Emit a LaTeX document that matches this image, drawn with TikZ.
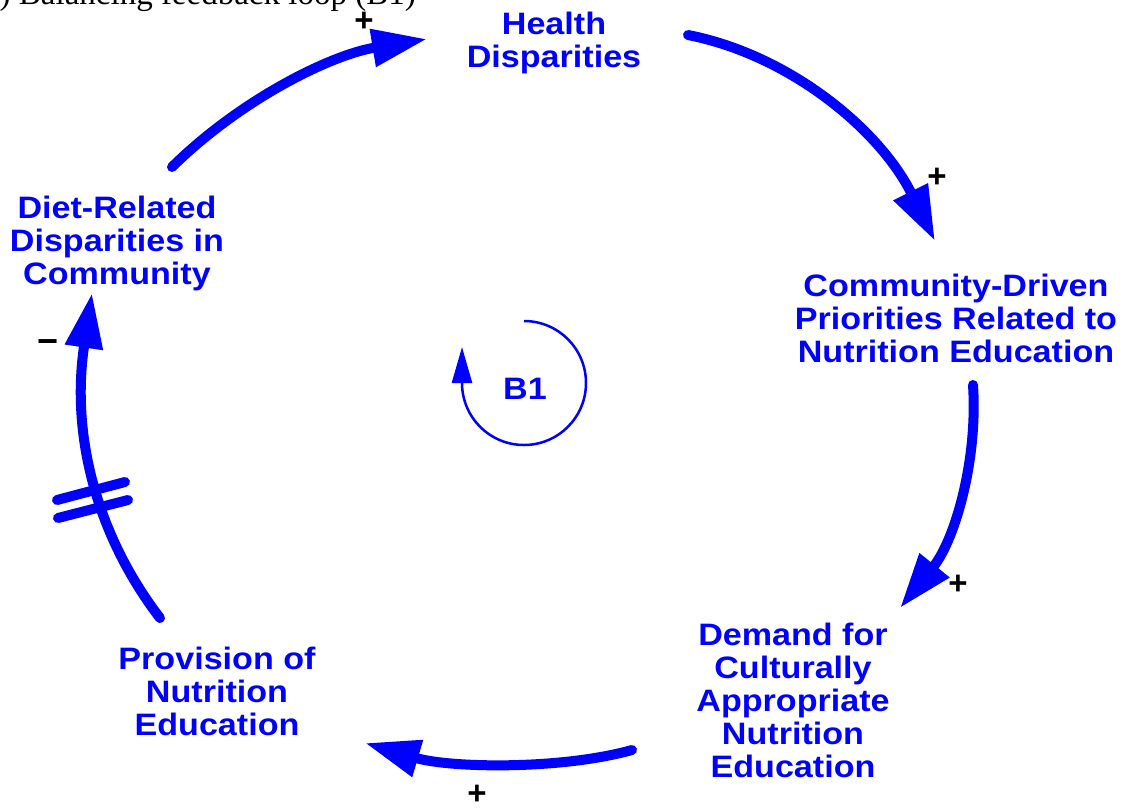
\documentclass[tikz,border=0pt]{standalone}
\usepackage{fontspec}
\setmainfont{Liberation Sans}
\newfontfamily\lblfont{Liberation Sans}[FakeStretch=1.1]
\newfontfamily\titlefont{Liberation Serif}
\usetikzlibrary{arrows.meta}
\begin{document}
\begin{tikzpicture}[x=1pt,y=-1pt,
  lbl/.style={text=blue, font=\lblfont\bfseries\fontsize{31}{33}\selectfont, align=center, inner sep=0pt, anchor=north},
  link/.style={draw=blue, line width=10pt, line cap=round, -{Triangle[length=55pt,width=36pt]}},
  pol/.style={font=\bfseries\fontsize{33}{33}\selectfont, inner sep=0pt, text=black},
  hash/.style={draw=blue, line width=10pt, line cap=round}]
\useasboundingbox (0,0) rectangle (1128,807);
% title (cut off at the top)
\node[anchor=base west, font=\titlefont\fontsize{33}{33}\selectfont, inner sep=0pt] (title) at (-17,4) {b) Balancing feedback loop (B1)};
% variables
\node[lbl] (hd) at (554,9) {\rule{0pt}{25pt}Health\\Disparities};
\node[lbl] (cd) at (956,271) {\rule{0pt}{25pt}Community-Driven\\Priorities Related to\\Nutrition Education};
\node[lbl] (dm) at (793,620) {\rule{0pt}{25pt}Demand for\\Culturally\\Appropriate\\Nutrition\\Education};
\node[lbl] (pv) at (217,644) {\rule{0pt}{25pt}Provision of\\Nutrition\\Education};
\node[lbl] (dr) at (117,193) {\rule{0pt}{25pt}Diet-Related\\Disparities in\\Community};
% connector ends
\coordinate (a1s) at (172,167); \coordinate (a1e) at (427,39);
\coordinate (a2s) at (688,35);  \coordinate (a2e) at (935,241);
\coordinate (a3s) at (973,385); \coordinate (a3e) at (900,608);
\coordinate (a4s) at (632,750); \coordinate (a4e) at (365,743);
\coordinate (a5s) at (160,618); \coordinate (a5e) at (92,293);
\draw[link] (a1s) .. controls (240,100) and (330,55) .. (a1e);
\draw[link] (a2s) .. controls (790,55) and (880,130) .. (a2e);
\draw[link] (a3s) .. controls (978,460) and (955,540) .. (a3e);
\draw[link] (a4s) .. controls (560,770) and (450,768) .. (a4e);
\draw[link] (a5s) .. controls (100,540) and (70,440) .. (a5e);
% delay mark
\coordinate (h1a) at (57,500); \coordinate (h1b) at (125,482);
\coordinate (h2a) at (58,518); \coordinate (h2b) at (128,500);
\draw[hash] (h1a) -- (h1b);
\draw[hash] (h2a) -- (h2b);
% polarities
\node[pol] (p1) at (364,22) {+};
\node[pol] (p2) at (937,178) {+};
\node[pol] (p3) at (958,585) {+};
\node[pol] (p4) at (477,795) {+};
\node[pol, font=\bfseries\fontsize{36}{36}\selectfont] (m5) at (48,347) {−};
% loop marker
\node[text=blue, font=\lblfont\bfseries\fontsize{31}{33}\selectfont, inner sep=0pt] (b1) at (525,389) {B1};
\coordinate (l1s) at (524,321); \coordinate (l1e) at (462,347);
\draw[draw=blue, line width=2.5pt, -{Triangle[length=36pt,width=20pt]}] (l1s) arc[start angle=-90, end angle=180, radius=62] -- (l1e);
\end{tikzpicture}
\end{document}
